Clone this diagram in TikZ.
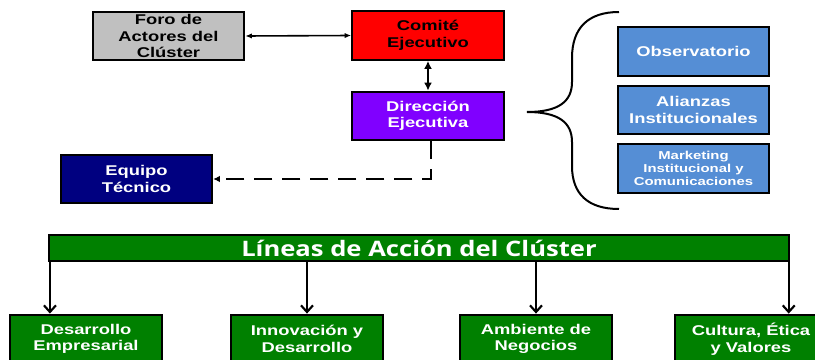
\documentclass[tikz,border=0pt]{standalone}
\usepackage{fontspec}
\setmainfont{Liberation Sans}[FakeStretch=1.3]
\newfontfamily\bannerfont{Open Sans}[FakeStretch=1.2]
\usetikzlibrary{arrows.meta}
\definecolor{foroGray}{RGB}{192,192,192}
\definecolor{dirPurple}{RGB}{128,0,255}
\definecolor{eqNavy}{RGB}{0,0,128}
\definecolor{obsBlue}{RGB}{85,142,213}
\definecolor{lineGreen}{RGB}{0,128,0}
\tikzset{
  box/.style={draw=black, line width=1.6pt, align=center, inner sep=0pt,
    font=\fontsize{10.6}{12.4}\selectfont\bfseries},
  bigbox/.style={box, minimum width=113.5pt, minimum height=36.5pt},
  lineabox/.style={bigbox, fill=lineGreen, text=white},
  sidebox/.style={bigbox, fill=obsBlue, text=white},
  linkarrow/.style={line width=1.2pt, {Latex[length=5pt,width=4pt]}-{Latex[length=5pt,width=4pt]}},
  downarrow/.style={line width=1.8pt, -{Straight Barb[length=5pt,width=9pt,line width=1.6pt]}},
}
\begin{document}
\begin{tikzpicture}[x=0.75pt,y=0.75pt,yscale=-1,xscale=1]
\useasboundingbox (0,0) rectangle (815,360);
\clip (0,0) rectangle (815,360);

%Shape: Rectangle [top boxes]
\node [bigbox, fill=foroGray] (foro) at (168.5,36) {Foro de\\Actores del\\Clúster};
\node [bigbox, fill=red] (comite) at (428,35.5) {Comité\\Ejecutivo};
\node [bigbox, fill=dirPurple, text=white] (direccion) at (428,116) {Dirección\\Ejecutiva};
\node [bigbox, fill=eqNavy, text=white] (equipo) at (136.5,179) {Equipo\\Técnico};

%Shape: Rectangle [side boxes]
\node [sidebox] (observatorio) at (693.5,51.5) {Observatorio};
\node [sidebox] (alianzas) at (693.5,110) {Alianzas\\Institucionales};
\node [sidebox, font=\fontsize{8.6}{10}\selectfont\bfseries] (marketing) at (693.5,168.5) {Marketing\\Institucional y\\Comunicaciones};

%Shape: Brace
\draw [line width=1.5pt] (619,12) .. controls (588,12) and (572,28) .. (572,58) -- (572,82) .. controls (572,102) and (558,112) .. (527,112) .. controls (558,112) and (572,122) .. (572,142) -- (572,166) .. controls (572,194) and (588,209) .. (619,209);

%Straight Lines
\draw [linkarrow] (foro.east) -- (comite.west);
\draw [line width=2.2pt, {Latex[length=6pt,width=6pt]}-{Latex[length=6pt,width=6pt]}] (comite.south) -- (direccion.north);
\draw [line width=1.6pt, dash pattern=on 13.5pt off 7.5pt, -{Latex[length=5pt,width=5pt]}] ([xshift=2pt]direccion.south) |- (equipo.east);

% Text Node
\node [draw=black, line width=1.6pt, fill=lineGreen, text=white, minimum width=555pt, minimum height=19pt, inner sep=0pt, font=\bannerfont\fontsize{16}{18}\selectfont\bfseries] (lineas) at (419,248) {Líneas de Acción del Clúster};

%Shape: Rectangle [bottom boxes]
\node [lineabox] (desarrollo) at (86,339) {Desarrollo\\Empresarial};
\node [lineabox] (innovacion) at (307,339) {Innovación y\\Desarrollo};
\node [lineabox] (ambiente) at (536,339) {Ambiente de\\Negocios};
\node [lineabox] (cultura) at (751,339) {Cultura, Ética\\y Valores};

%Straight Lines [down arrows]
\draw [downarrow] ([xshift=1.5pt]lineas.south west) -- ([xshift=1.5pt]lineas.south west |- desarrollo.north);
\draw [downarrow] (lineas.south -| innovacion.north) -- (innovacion.north);
\draw [downarrow] (lineas.south -| ambiente.north) -- (ambiente.north);
\draw [downarrow] ([xshift=-1pt]lineas.south east) -- ([xshift=-1pt]lineas.south east |- cultura.north);

\end{tikzpicture}
\end{document}
